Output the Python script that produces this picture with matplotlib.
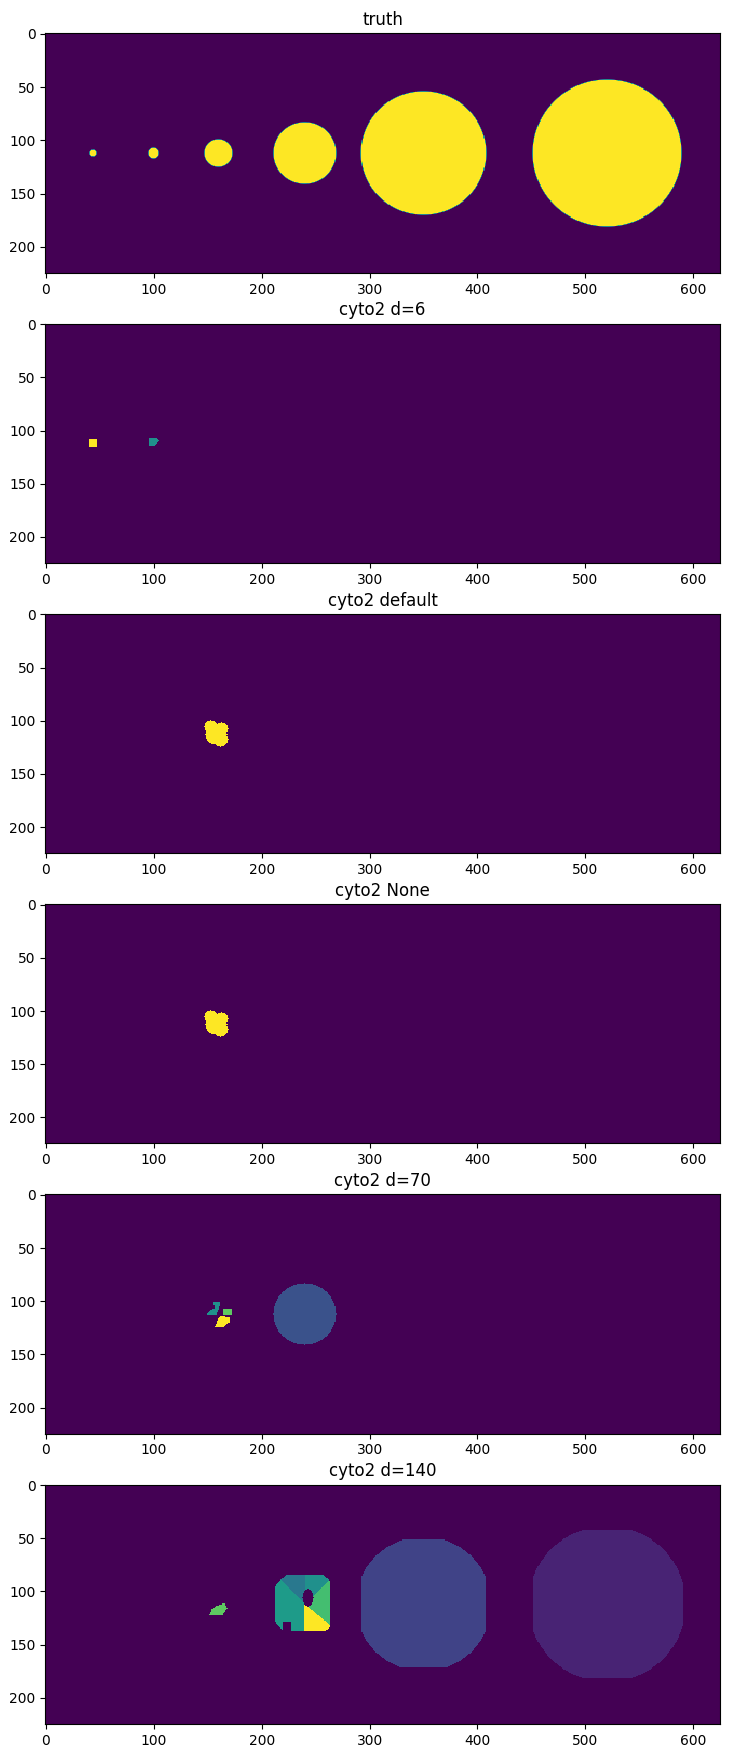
import numpy as np
import matplotlib
matplotlib.use("Agg")
import matplotlib.pyplot as plt
from matplotlib.path import Path

H, W = 225, 625
titles = ["truth", "cyto2 d=6", "cyto2 default", "cyto2 None", "cyto2 d=70", "cyto2 d=140"]

# truth circles: (cx, cy, r)
truth_circles = [(44, 112, 3), (100, 112, 5), (160, 112, 13), (240, 112, 29), (350, 112, 58), (520, 112, 69)]

# label masks: (kind, params, label)
d6_shapes = [("box", (41, 109, 47, 115), 2), ("poly", [(96, 108), (102, 107), (105, 110), (101, 114), (96, 114)], 1)]
default_shapes = [("circle", (158, 113, 10), 1), ("circle", (153, 106, 6), 1), ("circle", (163, 108, 6), 1),
                  ("circle", (162, 118, 7), 1)]
d70_shapes = [("circle", (240, 112, 29), 1),
              ("poly", [(155, 100), (162, 100), (160, 108), (158, 112), (150, 112), (153, 109), (157, 107)], 2),
              ("poly", [(165, 108), (172, 107), (172, 112), (165, 112)], 3),
              ("poly", [(163, 113), (170, 115), (170, 120), (165, 124), (157, 124), (160, 116)], 4)]
d140_shapes = [("clipcircle", (520, 112, 73, 452, 590, 43, 181), 2),
               ("clipcircle", (350, 112, 63, 293, 407, 52, 171), 4),
               ("poly", [(158, 114), (166, 111), (168, 116), (164, 122), (152, 122), (154, 117)], 15),
               ("sectors", (240, 112, 26, 213, 263, 85, 137, [(90, 135, 8), (45, 90, 10), (-40, 45, 14),
                                                         (-90, -40, 20), (135, 270, 11)]), 0)]

yy, xx = np.mgrid[0:H, 0:W]


def circle_mask(cx, cy, r):
    return (xx - cx) ** 2 + (yy - cy) ** 2 <= r ** 2


def render(shapes):
    img = np.zeros((H, W))
    pts = np.column_stack([xx.ravel(), yy.ravel()])
    for kind, p, lab in shapes:
        if kind == "box":
            x0, y0, x1, y1 = p
            img[(xx >= x0) & (xx <= x1) & (yy >= y0) & (yy <= y1)] = lab
        elif kind == "circle":
            img[circle_mask(*p)] = lab
        elif kind == "clipcircle":
            cx, cy, r, x0, x1, y0, y1 = p
            m = circle_mask(cx, cy, r) & (xx >= x0) & (xx <= x1) & (yy >= y0) & (yy <= y1)
            img[m] = lab
        elif kind == "poly":
            m = Path(p).contains_points(pts).reshape(H, W)
            img[m] = lab
        elif kind == "sectors":
            cx, cy, r, x0, x1, y0, y1, secs = p
            base = ((xx - cx) ** 2 / (r + 2) ** 2 + (yy - cy) ** 2 / (r + 3) ** 2 <= 1.25)
            base &= (xx >= x0) & (xx <= x1) & (yy >= y0) & (yy <= y1)
            base &= ~(((xx - 243) ** 2 / 5 ** 2 + (yy - 106) ** 2 / 8 ** 2) <= 1)
            base &= ~((xx < 228) & (yy > 128) & (xx > 219))
            ang = np.degrees(np.arctan2(-(yy - cy), xx - cx))
            ang = np.where(ang < -90, ang + 360, ang)
            for a0, a1, l in secs:
                img[base & (ang >= a0) & (ang < a1)] = l
    return img


truth = np.zeros((H, W))
for cx, cy, r in truth_circles:
    d = np.sqrt((xx - cx) ** 2 + (yy - cy) ** 2)
    truth = np.maximum(truth, np.clip(r + 0.5 - d, 0, 1))

images = [truth, render(d6_shapes), render(default_shapes), render(default_shapes),
          render(d70_shapes), render(d140_shapes)]

fig = plt.figure(figsize=(7.3, 17.6), dpi=100)
left, width = 0.062, 0.924
hgt, step, top = 0.136, 0.1649, 0.981
for i, (img, t) in enumerate(zip(images, titles)):
    ax = fig.add_axes([left, top - hgt - i * step, width, hgt])
    ax.imshow(img, interpolation="nearest")
    ax.set_title(t)
    ax.set_aspect("auto")
fig.savefig("out.png")
